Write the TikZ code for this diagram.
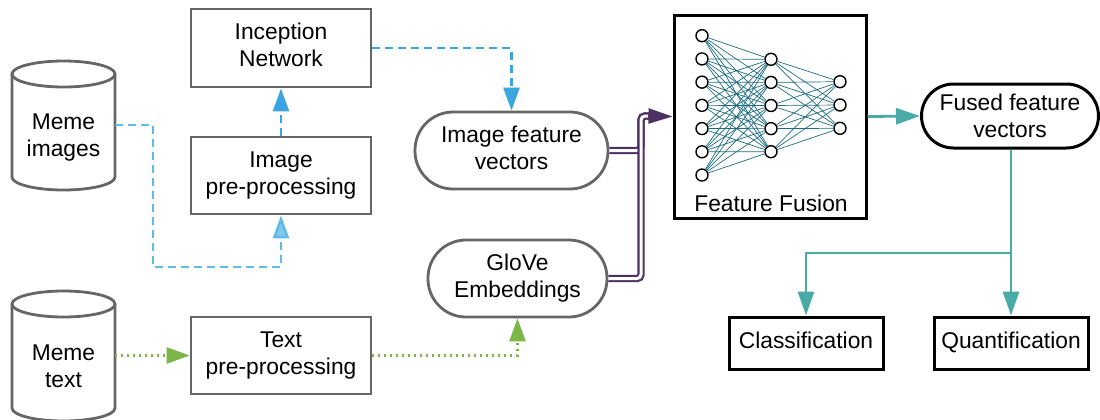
\documentclass[tikz,border=0pt]{standalone}
\usepackage{fontspec}
\setmainfont{Liberation Sans}
\usetikzlibrary{arrows.meta,calc}
\definecolor{boxgray}{HTML}{666666}
\definecolor{blued}{HTML}{3BA5E0}
\definecolor{bluel}{HTML}{62BBE6}
\definecolor{bluelf}{HTML}{80C9EC}
\definecolor{grn}{HTML}{7AB648}
\definecolor{tealc}{HTML}{4AABA6}
\definecolor{purp}{HTML}{4E3164}
\definecolor{nnedge}{HTML}{1F6B80}
\begin{document}
\begin{tikzpicture}[x=0.5pt,y=-0.5pt,
  txt/.style={font=\fontsize{11.4pt}{13.5pt}\selectfont, align=center, inner sep=0pt},
  gbox/.style={txt, draw=boxgray, line width=1.4pt, minimum width=90pt, minimum height=38.5pt},
  pill/.style={txt, draw=boxgray, line width=1.4pt, rounded corners=19pt, minimum height=38.5pt},
  bbox/.style={txt, draw=black, line width=1.5pt},
  cyl/.style={draw=boxgray, line width=1.4pt},
  neuron/.style={circle, draw=black, fill=white, line width=0.7pt, minimum size=6pt, inner sep=0pt},
  nnline/.style={draw=nnedge, line width=0.35pt},
  tip/.style={-{Triangle[length=11.5pt,width=8pt]}},
  dashblue/.style={line width=1.3pt, dash pattern=on 4pt off 2.5pt},
  dotgreen/.style={draw=grn, line width=1.3pt, dash pattern=on 1pt off 2pt},
  dbl/.style={draw=purp, line width=1.1pt, double=white, double distance=1.5pt, rounded corners=2pt},
  teal/.style={draw=tealc, line width=1.4pt}
]
\useasboundingbox (0,0) rectangle (1100,419);

% cylinders
\draw[cyl] (12,74) -- (12,177) arc[start angle=180, end angle=0, x radius=51.5, y radius=13] -- (115,74);
\draw[cyl] (63.5,74) ellipse[x radius=51.5, y radius=13];
\node[txt, minimum width=51.5pt, minimum height=50pt] (mi) at (63.5,138) {Meme\\images};

\draw[cyl] (12,304) -- (12,408) arc[start angle=180, end angle=0, x radius=51.5, y radius=13] -- (115,304);
\draw[cyl] (63.5,304) ellipse[x radius=51.5, y radius=13];
\node[txt, minimum width=51.5pt] (mt) at (63.5,366) {Meme\\text};

% boxes
\node[gbox, minimum height=39pt] (inc) at (281,48) {\raisebox{1.5pt}{\begin{tabular}{@{}c@{}}Inception\\Network\end{tabular}}};
\node[gbox] (ipp) at (281,175.5) {Image\\pre-processing};
\node[gbox] (tpp) at (281,355.5) {Text\\pre-processing};
\node[pill, minimum width=96.5pt] (ifv) at (511.5,150.5) {\raisebox{1.5pt}{\begin{tabular}{@{}c@{}}Image feature\\vectors\end{tabular}}};
\node[pill, minimum width=89.5pt] (glv) at (517.5,278.5) {GloVe\\Embeddings};
\node[bbox, minimum width=96pt, minimum height=101.5pt] (ff) at (770,116.5) {};
\node[txt] (fft) at (771,203) {Feature Fusion};
\node[bbox, minimum width=88.5pt, minimum height=32pt, rounded corners=16pt] (ffv) at (1010,116) {Fused feature\\vectors};
\node[bbox, minimum width=77pt, minimum height=26pt] (cls) at (806,343) {\raisebox{2.5pt}{Classification}};
\node[bbox, minimum width=77pt, minimum height=26pt] (qnt) at (1011,343) {\raisebox{2.5pt}{Quantification}};

% neural network
\foreach \i in {1,...,7} \node[neuron] (a\i) at (702,{35.7+(\i-1)*23.22}) {};
\foreach \j in {1,...,5} \node[neuron] (h\j) at (771,{59.3+(\j-1)*23.1}) {};
\foreach \k in {1,...,3} \node[neuron] (o\k) at (840,{81.7+(\k-1)*23.3}) {};
\foreach \i in {1,...,7} \foreach \j in {1,...,5} \draw[nnline] (a\i) -- (h\j);
\foreach \j in {1,...,5} \foreach \k in {1,...,3} \draw[nnline] (h\j) -- (o\k);

% blue connectors
\draw[dashblue, draw=bluel, -{Triangle[length=11.5pt,width=8pt,fill=bluelf]}] ([yshift=6.5pt]mi.east) -| (153,267) -| (ipp.south);
\draw[dashblue, draw=blued, tip] (ipp.north) -- (inc.south);
\draw[dashblue, draw=blued, tip] (inc.east) -| (ifv.north);

% green connectors
\draw[dotgreen, tip] (mt.east |- tpp.west) -- (tpp.west);
\draw[dotgreen, tip] (tpp.east) -| (glv.south);

% purple double lines
\coordinate (jn) at (641,116);
\coordinate (je) at (652,116);
\draw[dbl] (ifv.east) -| (jn) -- (je);
\draw[dbl] (glv.east) -| (jn) -- (je);
\draw[draw=purp, line width=1.2pt, -{Triangle[length=12pt,width=7.5pt]}] (648,116) -- (ff.west);

% teal connectors
\draw[teal, -{Triangle[length=12pt,width=8pt]}] (ff.east) -- (ffv.west);
\coordinate (sp) at (1011,253);
\draw[teal] (qnt.north |- ffv.south) -- (sp);
\draw[teal, -{Triangle[length=12pt,width=8pt]}] (sp) -| (cls.north);
\draw[teal, -{Triangle[length=12pt,width=8pt]}] (sp) -- (qnt.north);
\end{tikzpicture}
\end{document}
